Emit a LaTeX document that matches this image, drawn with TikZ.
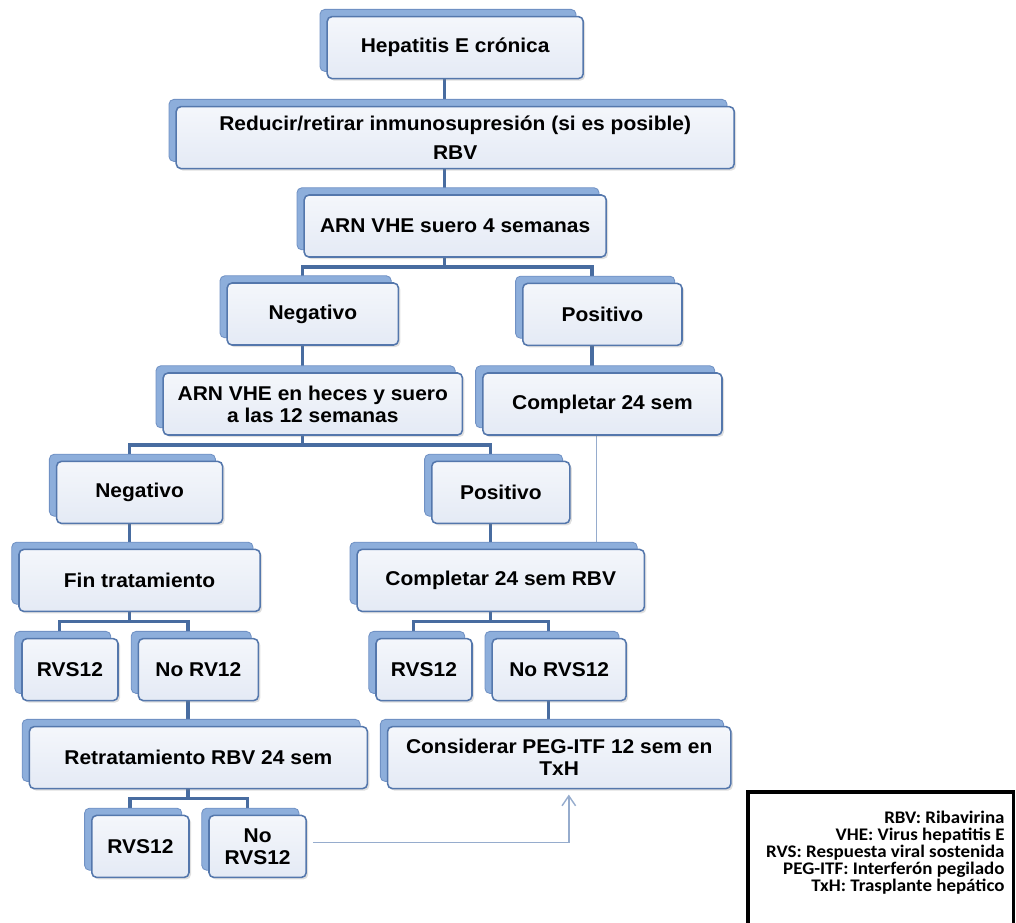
\documentclass[tikz,border=0pt]{standalone}
\usepackage{fontspec}
\setmainfont{Liberation Sans}[FakeStretch=1.05]
\newfontfamily\legendfont{Carlito}[FakeStretch=1.07]
\usetikzlibrary{arrows.meta, shadows, backgrounds}

\definecolor{tabblue}{RGB}{141,174,219}
\definecolor{tabedge}{RGB}{112,145,196}
\definecolor{boxline}{RGB}{84,119,172}
\definecolor{boxfill}{RGB}{228,234,245}
\definecolor{linkblue}{RGB}{72,108,160}
\definecolor{thinblue}{RGB}{150,172,205}

\begin{document}
\begin{tikzpicture}[
    box/.style={draw=boxline, line width=1.1pt, rounded corners=0.12cm,
        top color=white!60!boxfill, bottom color=boxfill, align=center,
        minimum height=1.55cm, inner sep=2pt,
        font=\bfseries\fontsize{14.2pt}{15.6pt}\selectfont,
        general shadow={fill=tabblue, draw=tabedge, line width=0.6pt,
            shadow xshift=-0.18cm, shadow yshift=0.18cm},
        drop shadow={shadow xshift=0.05cm, shadow yshift=-0.05cm,
            opacity=0.25}},
    link/.style={draw=linkblue, line width=2.4pt},
    thinlink/.style={draw=thinblue, line width=0.8pt},
    arrow/.style={draw=thinblue, line width=1pt,
        -{Straight Barb[length=0.25cm, width=0.34cm]}},
    legend/.style={anchor=north east, align=right, inner sep=0pt,
        font=\legendfont\bfseries\fontsize{12.6pt}{12.1pt}\selectfont}
]
    \useasboundingbox (0,0) rectangle (25.4,-23.05);

    % arbol principal
    \node[box, minimum width=6.4cm] (hep) at (11.38,-1.19) {Hepatitis E crónica};
    \node[box, minimum width=13.95cm] (red) at (11.38,-3.44)
        {Reducir/retirar inmunosupresión (si es posible)\\[5pt]RBV};
    \node[box, minimum width=7.55cm] (sue) at (11.38,-5.65) {ARN VHE suero 4 semanas};
    \node[box, minimum width=4.28cm] (neg1) at (7.82,-7.85) {Negativo};
    \node[box, minimum width=3.98cm] (pos1) at (15.06,-7.86) {Positivo};
    \node[box, minimum width=7.48cm] (hec) at (7.82,-10.1)
        {ARN VHE en heces y suero\\a las 12 semanas};
    \node[box, minimum width=5.98cm] (com) at (15.06,-10.1) {Completar 24 sem};
    \node[box, minimum width=4.15cm] (neg2) at (3.49,-12.31) {Negativo};
    \node[box, minimum width=3.45cm] (pos2) at (12.52,-12.31) {Positivo};
    \node[box, minimum width=6.03cm] (fin) at (3.49,-14.51) {Fin tratamiento};
    \node[box, minimum width=7.18cm] (crb) at (12.52,-14.51) {Completar 24 sem RBV};
    \node[box, minimum width=2.4cm] (rvsA) at (1.75,-16.74) {RVS12};
    \node[box, minimum width=3cm] (norvA) at (4.96,-16.74) {No RV12};
    \node[box, minimum width=2.4cm] (rvsB) at (10.6,-16.74) {RVS12};
    \node[box, minimum width=3.35cm] (norvB) at (13.98,-16.74) {No RVS12};
    \node[box, minimum width=8.45cm] (ret) at (4.96,-18.94) {Retratamiento RBV 24 sem};
    \node[box, minimum width=8.58cm] (con) at (13.98,-18.94)
        {Considerar PEG-ITF 12 sem en\\TxH};
    \node[box, minimum width=2.43cm] (rvsC) at (3.51,-21.16) {RVS12};
    \node[box, minimum width=2.43cm] (norvC) at (6.44,-21.16) {No\\RVS12};

    % conectores
    \begin{scope}[on background layer]
        \draw[link] ([xshift=-0.26cm]hep.south) -- ([xshift=-0.26cm]red.north);
        \draw[link] ([xshift=-0.26cm]red.south) -- ([xshift=-0.26cm]sue.north);
        \draw[link] ([xshift=-0.26cm]sue.south) -- ++(0,-0.23);
        \draw[link] ([xshift=-0.26cm]neg1.north)
            |- ([xshift=-0.26cm, yshift=-0.23cm]sue.south)
            -| ([xshift=-0.26cm]pos1.north);
        \draw[link] ([xshift=-0.26cm]neg1.south) -- ([xshift=-0.26cm]hec.north);
        \draw[link] ([xshift=-0.26cm]pos1.south) -- ([xshift=-0.26cm]com.north);
        \draw[link] ([xshift=-0.26cm]hec.south) -- ++(0,-0.23);
        \draw[link] ([xshift=-0.26cm]neg2.north)
            |- ([xshift=-0.26cm, yshift=-0.23cm]hec.south)
            -| ([xshift=-0.26cm]pos2.north);
        \draw[link] ([xshift=-0.26cm]neg2.south) -- ([xshift=-0.26cm]fin.north);
        \draw[link] ([xshift=-0.26cm]pos2.south) -- ([xshift=-0.26cm]crb.north);
        \draw[link] ([xshift=-0.26cm]fin.south) -- ++(0,-0.23);
        \draw[link] ([xshift=-0.26cm]rvsA.north)
            |- ([xshift=-0.26cm, yshift=-0.23cm]fin.south)
            -| ([xshift=-0.26cm]norvA.north);
        \draw[link] ([xshift=-0.26cm]crb.south) -- ++(0,-0.23);
        \draw[link] ([xshift=-0.26cm]rvsB.north)
            |- ([xshift=-0.26cm, yshift=-0.23cm]crb.south)
            -| ([xshift=-0.26cm]norvB.north);
        \draw[link] ([xshift=-0.26cm]norvA.south) -- ([xshift=-0.26cm]ret.north);
        \draw[link] ([xshift=-0.26cm]norvB.south) -- ([xshift=-0.26cm]con.north);
        \draw[link] ([xshift=-0.26cm]ret.south) -- ++(0,-0.23);
        \draw[link] ([xshift=-0.26cm]rvsC.north)
            |- ([xshift=-0.26cm, yshift=-0.23cm]ret.south)
            -| ([xshift=-0.26cm]norvC.north);
        \draw[thinlink] ([xshift=-0.14cm]com.south)
            -- ([xshift=-0.14cm]com.south |- crb.north);
    \end{scope}
    \draw[arrow] ([xshift=0.15cm, yshift=0.1cm]norvC.east)
        -| ([xshift=0.24cm, yshift=-0.13cm]con.south);

    % leyenda
    \draw[line width=2.2pt] (18.7,-19.8) rectangle (25.33,-23.4);
    \node[legend] (key) at (25.12,-20.28)
        {RBV: Ribavirina\\VHE: Virus hepatitis E\\RVS: Respuesta viral sostenida\\
         PEG-ITF: Interferón pegilado\\TxH: Trasplante hepático};
\end{tikzpicture}
\end{document}
